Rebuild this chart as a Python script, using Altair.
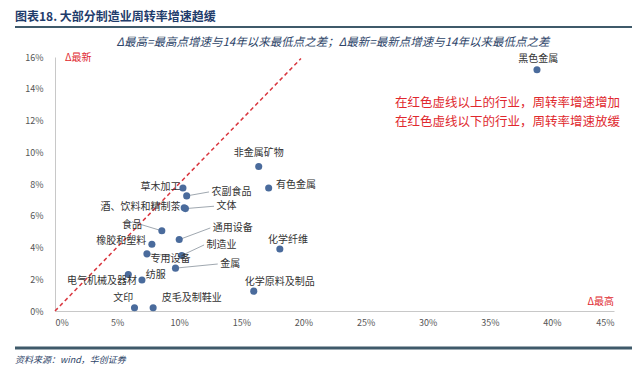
import altair as alt
import pandas as pd

FONT = "Noto Sans CJK SC"

# ---- data (percent) ----
industries = ["黑色金属", "非金属矿物", "有色金属", "化学纤维", "化学原料及制品",
              "草木加工", "农副食品", "酒、饮料和精制茶", "文体", "食品",
              "通用设备", "橡胶和塑料", "制造业", "专用设备", "金属",
              "纺服", "电气机械及器材", "文印", "皮毛及制鞋业"]
delta_high = [38.8, 16.4, 17.2, 18.1, 16.0,
              10.3, 10.6, 10.4, 10.5, 8.6,
              10.0, 7.8, 10.2, 7.4, 9.7,
              7.0, 5.9, 6.4, 7.9]
delta_new = [15.2, 9.1, 7.75, 3.9, 1.25,
             7.75, 7.25, 6.5, 6.45, 5.05,
             4.5, 4.2, 3.5, 3.6, 2.7,
             1.95, 2.3, 0.2, 0.2]

# label anchor positions (percent) and alignment
label_x = [38.9, 16.4, 17.8, 17.15, 18.1,
           10.1, 12.6, 10.1, 13.0, 6.2,
           12.7, 7.35, 12.2, 9.3, 13.3,
           7.3, 6.6, 6.3, 8.6]
label_y = [15.9, 9.95, 7.94, 4.45, 1.83,
           7.81, 7.5, 6.55, 6.6, 5.42,
           5.23, 4.41, 4.16, 3.3, 2.96,
           2.27, 1.9, 0.82, 0.82]
label_align = ["center", "center", "left", "left", "center",
               "right", "left", "right", "left", "center",
               "left", "right", "left", "center", "left",
               "left", "right", "right", "left"]
has_leader = [False, False, False, False, False,
              False, True, False, True, True,
              True, False, True, True, True,
              False, False, False, False]

diag_x = [0.0, 19.8]
diag_y = [0.0, 15.9]

x_ticks = [0, 5, 10, 15, 20, 25, 30, 35, 40, 45]
y_ticks = [0, 2, 4, 6, 8, 10, 12, 14, 16]

title = "图表18.  大部分制造业周转率增速趋缓"
subtitle = "Δ最高=最高点增速与14年以来最低点之差；Δ最新=最新点增速与14年以来最低点之差"
note1 = "在红色虚线以上的行业，周转率增速增加"
note2 = "在红色虚线以下的行业，周转率增速放缓"
source = "资料来源：wind，华创证券"

# ---- frames ----
pts = pd.DataFrame({
    "name": industries,
    "x": [v / 100 for v in delta_high],
    "y": [v / 100 for v in delta_new],
    "lx": [v / 100 for v in label_x],
    "ly": [v / 100 for v in label_y],
    "align": label_align,
    "leader": has_leader,
})
diag = pd.DataFrame({"x": [v / 100 for v in diag_x], "y": [v / 100 for v in diag_y]})

W, H = 559, 254
xs = alt.Scale(domain=[0, 0.45], nice=False)
ys = alt.Scale(domain=[0, 0.16], nice=False)

xaxis = alt.Axis(values=[v / 100 for v in x_ticks], format=".0%", grid=False, ticks=False,
                 domainColor="#c8c8c8", labelColor="#555555", labelFontSize=9,
                 labelFont=FONT, labelPadding=7, title=None, labelOverlap=False)
yaxis = alt.Axis(values=[v / 100 for v in y_ticks], format=".0%", grid=False, ticks=False,
                 domainColor="#c8c8c8", labelColor="#555555", labelFontSize=9,
                 labelFont=FONT, labelPadding=12, title=None, labelOverlap=False)

def X(f):
    return alt.X(f, scale=xs, axis=xaxis)

def Y(f):
    return alt.Y(f, scale=ys, axis=yaxis)

base = alt.Chart(pts)

line = alt.Chart(diag).mark_line(color="#d9363e", strokeDash=[4, 3], strokeWidth=1.5).encode(
    x=X("x:Q"), y=Y("y:Q"),
)

leaders = base.transform_filter("datum.leader").transform_calculate(
    ex="datum.align == 'left' ? datum.lx - 0.002 : datum.lx",
    ey="datum.align == 'left' ? datum.ly : datum.ly + 0.002",
).mark_rule(color="#a0a8b0", strokeWidth=1).encode(
    x=X("x:Q"), y=Y("y:Q"), x2="ex:Q", y2="ey:Q",
)

dots = base.mark_circle(size=50, color="#4a6b9c", opacity=1).encode(
    x=X("x:Q"), y=Y("y:Q"),
)

def labels(al):
    return base.transform_filter(f"datum.align == '{al}'").mark_text(
        align=al, baseline="middle", font=FONT, fontSize=10, color="#333333"
    ).encode(x=X("lx:Q"), y=Y("ly:Q"), text="name:N")

def free_text(txt, x, y, align="left", size=10, color="#333", weight="normal", style="normal"):
    return alt.Chart(pd.DataFrame({"t": [txt]})).mark_text(
        align=align, baseline="middle", font=FONT, fontSize=size, color=color,
        fontWeight=weight, fontStyle=style
    ).encode(x=alt.value(x), y=alt.value(y), text="t:N")

def hrule(x1, x2, y, color, width):
    return alt.Chart(pd.DataFrame({"a": [0]})).mark_rule(color=color, strokeWidth=width).encode(
        x=alt.value(x1), x2=alt.value(x2), y=alt.value(y)
    )

chart = alt.layer(
    line,
    leaders,
    dots,
    labels("left"), labels("center"), labels("right"),
    free_text(title, -40, -40, size=12, color="#1f3c6b", weight="bold"),
    hrule(-40, 585, -30, "#3f5a6a", 2),
    free_text(subtitle, 278, -14, align="center", size=11.5, color="#2d4468", style="italic"),
    free_text("Δ最新", 10, 1, size=10, color="#e0282e"),
    free_text("Δ最高", 559, 245, align="right", size=10, color="#e0282e"),
    free_text(note1, 340, 46, size=12.5, color="#e0282e"),
    free_text(note2, 340, 65, size=12.5, color="#e0282e"),
    hrule(-40, 585, 291, "#3f5a6a", 3),
    free_text(source, -40, 303, size=9, color="#2d4468", style="italic"),
).properties(
    width=W, height=H,
    autosize=alt.AutoSizeParams(type="none"),
    padding={"left": 47, "top": 49, "right": 18, "bottom": 56},
).configure_view(stroke=None)

chart.save("out.html", embed_options={"renderer": "svg", "actions": False})
